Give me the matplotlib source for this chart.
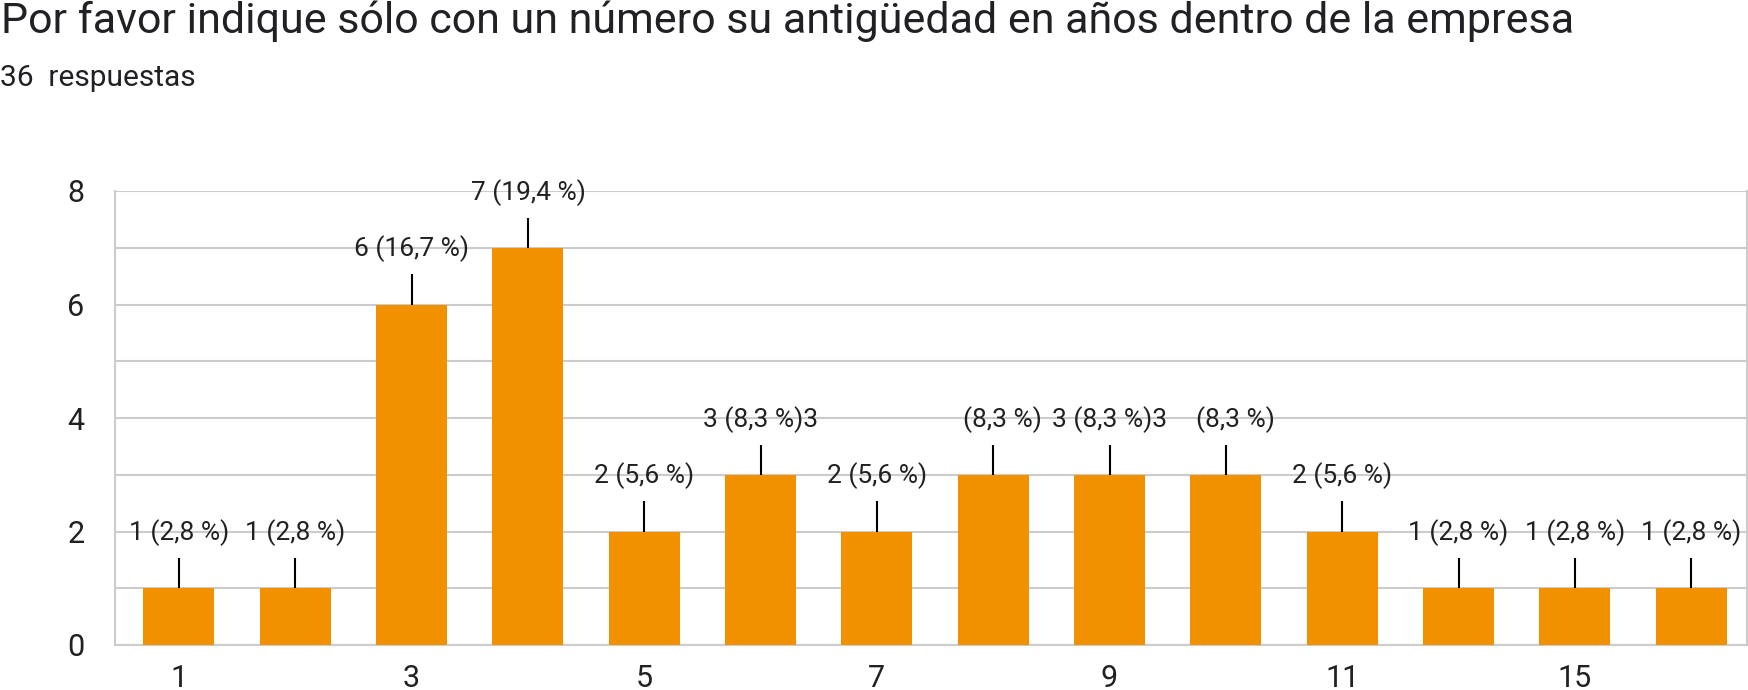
import matplotlib
matplotlib.use("Agg")
import matplotlib.pyplot as plt
import numpy as np

plt.rcParams['font.family'] = ['Roboto', 'DejaVu Sans']

# data
title = "Por favor indique sólo con un número su antigüedad en años dentro de la empresa"
subtitle = "36  respuestas"
counts = [1, 1, 6, 7, 2, 3, 2, 3, 3, 3, 2, 1, 1, 1]
tick_labels = ["1", "", "3", "", "5", "", "7", "", "9", "", "11", "", "15", ""]
bar_labels = ["1 (2,8 %)", "1 (2,8 %)", "6 (16,7 %)", "7 (19,4 %)", "2 (5,6 %)",
              "3 (8,3 %)3", "2 (5,6 %)", "(8,3 %)", "3 (8,3 %)3", "(8,3 %)",
              "2 (5,6 %)", "1 (2,8 %)", "1 (2,8 %)", "1 (2,8 %)"]

W, H = 1748, 690
fig = plt.figure(figsize=(W / 100, H / 100), dpi=100)
ax = fig.add_axes([115 / W, 1 - 645 / H, (1747 - 115) / W, (645 - 191) / H])

x = np.arange(len(counts))
ax.bar(x, counts, width=0.61, color='#f29100', zorder=3)

# leader lines + labels
vals = np.array(counts, dtype=float)
ax.vlines(x, vals, vals + 0.53, color='black', lw=1.5, zorder=4)
for xi, v, lab in zip(x, vals, bar_labels):
    # the clipped "(8,3 %)" labels sit a bit right of the bar centre
    dx = 0.08 if lab.startswith('(') else 0.0
    ax.text(xi + dx, v + 0.98, lab, ha='center', va='center', fontsize=19,
            color='#212121', zorder=5)

ax.set_xlim(-0.55, len(counts) - 1 + 0.48)
ax.set_ylim(0, 8)
ax.set_yticks([0, 2, 4, 6, 8])
ax.set_yticks(np.arange(0, 9), minor=True)
ax.set_xticks(x)
ax.set_xticklabels(tick_labels)

ax.grid(axis='y', which='both', color='#cccccc', lw=1.5, zorder=0)
ax.spines['top'].set_visible(False)
for side in ['left', 'right', 'bottom']:
    ax.spines[side].set_color('#cccccc')
    ax.spines[side].set_linewidth(1.5)
ax.tick_params(axis='both', which='both', length=0, labelsize=22, colors='#212121')
ax.tick_params(axis='y', pad=22)
ax.tick_params(axis='x', pad=14)

fig.text(0.0008, 1 - 33 / H, title, fontsize=31, color='#202124', va='baseline', ha='left')
fig.text(0.0, 1 - 86 / H, subtitle, fontsize=21.5, color='#202124', va='baseline', ha='left')

fig.savefig("out.png", dpi=100)
